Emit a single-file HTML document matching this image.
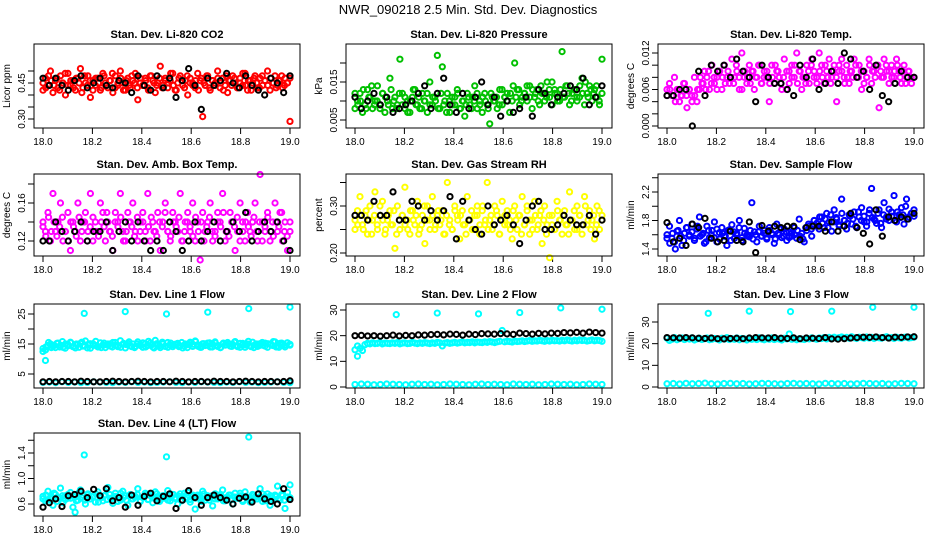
<!DOCTYPE html>
<html><head><meta charset="utf-8"><title>NWR_090218 2.5 Min. Std. Dev. Diagnostics</title>
<style>
html,body{margin:0;padding:0;background:#fff;}
svg{display:block;font-family:"Liberation Sans",Arial,sans-serif;}
</style></head>
<body>
<svg id="chart" width="936" height="540" viewBox="0 0 936 540" xmlns="http://www.w3.org/2000/svg">
<rect x="0" y="0" width="936" height="540" fill="#fff"/>
<text x="468" y="14" text-anchor="middle" font-size="13">NWR_090218  2.5 Min. Std. Dev. Diagnostics</text>
</svg>
<script>
// ---- data ----
const xTicks = [18.0,18.2,18.4,18.6,18.8,19.0];
const xTickLabels = ["18.0","18.2","18.4","18.6","18.8","19.0"];

const co2Color = [0.42,0.47,0.44,0.50,0.41,0.46,0.43,0.48,0.45,0.40,0.49,0.44,0.46,0.42,0.47,0.51,0.43,0.45,0.48,0.39,0.46,0.44,0.47,0.42,0.49,0.45,0.43,0.46,0.41,0.48,0.44,0.50,0.45,0.42,0.47,0.43,0.46,0.49,0.38,0.45,0.44,0.47,0.43,0.48,0.46,0.41,0.45,0.52,0.44,0.47,0.43,0.46,0.49,0.42,0.45,0.48,0.44,0.46,0.40,0.47,0.45,0.43,0.49,0.46,0.31,0.44,0.48,0.42,0.46,0.45,0.50,0.43,0.47,0.44,0.41,0.46,0.48,0.45,0.43,0.47,0.44,0.49,0.42,0.46,0.45,0.48,0.43,0.47,0.44,0.46,0.50,0.42,0.45,0.48,0.44,0.46,0.43,0.47,0.45,0.29];
const co2Color2 = [0.45,0.43,0.48,0.46,0.44,0.47,0.42,0.45,0.49,0.44,0.46,0.43,0.47,0.45,0.41,0.48,0.44,0.46,0.42,0.47,0.45,0.43,0.48,0.44,0.46,0.49,0.43,0.45,0.47,0.42,0.46,0.44,0.48,0.45,0.43,0.47,0.44,0.46,0.42,0.48,0.45,0.44,0.47,0.43,0.46,0.45,0.49,0.44,0.42,0.47,0.46,0.43,0.48,0.45,0.44,0.46,0.42,0.47,0.45,0.48,0.43,0.46,0.44,0.47,0.45,0.42,0.48,0.46,0.44,0.47,0.43,0.45,0.49,0.44,0.46,0.42,0.47,0.45,0.43,0.48,0.46,0.44,0.47,0.45,0.43,0.46,0.48,0.44,0.45,0.47];
const co2Black = [0.47,0.44,0.47,0.44,0.42,0.46,0.48,0.43,0.45,0.47,0.44,0.43,0.46,0.45,0.41,0.48,0.44,0.42,0.48,0.43,0.47,0.39,0.46,0.51,0.44,0.34,0.47,0.44,0.46,0.49,0.45,0.43,0.48,0.44,0.42,0.40,0.47,0.45,0.41,0.48];

const presColor = [0.008,0.010,0.012,0.007,0.009,0.013,0.011,0.008,0.010,0.014,0.009,0.012,0.007,0.010,0.016,0.008,0.011,0.009,0.021,0.012,0.008,0.010,0.007,0.011,0.013,0.009,0.008,0.012,0.010,0.007,0.015,0.009,0.011,0.022,0.008,0.019,0.010,0.012,0.007,0.009,0.011,0.013,0.008,0.010,0.006,0.012,0.009,0.011,0.014,0.008,0.010,0.007,0.012,0.009,0.004,0.011,0.010,0.008,0.013,0.009,0.011,0.012,0.007,0.010,0.020,0.013,0.009,0.011,0.012,0.010,0.014,0.008,0.011,0.013,0.009,0.012,0.010,0.015,0.011,0.009,0.013,0.012,0.010,0.023,0.011,0.014,0.009,0.012,0.013,0.010,0.011,0.016,0.009,0.012,0.014,0.010,0.013,0.011,0.009,0.021];
const presColor2 = [0.012,0.009,0.010,0.013,0.008,0.011,0.014,0.009,0.010,0.008,0.012,0.011,0.009,0.013,0.010,0.008,0.012,0.009,0.011,0.007,0.010,0.013,0.009,0.011,0.008,0.010,0.012,0.009,0.011,0.010,0.008,0.012,0.009,0.007,0.010,0.011,0.009,0.012,0.008,0.010,0.009,0.011,0.008,0.010,0.012,0.009,0.011,0.010,0.008,0.012,0.010,0.011,0.009,0.013,0.011,0.010,0.012,0.014,0.011,0.013,0.010,0.012,0.014,0.011,0.013,0.012,0.010,0.014,0.012,0.011,0.013,0.015,0.012,0.010,0.013,0.011,0.014,0.012,0.010,0.013,0.011,0.014,0.012,0.015,0.011,0.013,0.012,0.014,0.010,0.012];
const presBlack = [0.011,0.008,0.010,0.012,0.009,0.011,0.007,0.008,0.009,0.010,0.012,0.014,0.008,0.012,0.016,0.009,0.007,0.012,0.008,0.011,0.015,0.009,0.011,0.006,0.010,0.007,0.008,0.011,0.006,0.013,0.012,0.009,0.011,0.012,0.014,0.013,0.016,0.009,0.011,0.014];

const tempColor = [0.006,0.007,0.005,0.008,0.006,0.004,0.005,0.007,0.003,0.006,0.005,0.008,0.004,0.006,0.007,0.009,0.008,0.006,0.010,0.007,0.008,0.009,0.006,0.010,0.008,0.007,0.011,0.008,0.009,0.006,0.012,0.008,0.007,0.010,0.009,0.006,0.008,0.010,0.007,0.009,0.008,0.004,0.010,0.007,0.009,0.008,0.006,0.011,0.009,0.007,0.010,0.008,0.012,0.009,0.006,0.008,0.010,0.007,0.011,0.009,0.008,0.012,0.010,0.007,0.009,0.011,0.008,0.010,0.004,0.009,0.011,0.008,0.010,0.007,0.009,0.011,0.008,0.010,0.006,0.009,0.008,0.011,0.007,0.009,0.010,0.003,0.008,0.011,0.009,0.007,0.010,0.008,0.011,0.009,0.007,0.010,0.008,0.009,0.007,0.008];
const tempColor2 = [0.005,0.006,0.005,0.004,0.006,0.005,0.007,0.005,0.006,0.004,0.005,0.006,0.008,0.007,0.006,0.009,0.007,0.008,0.006,0.009,0.008,0.007,0.009,0.008,0.007,0.010,0.008,0.006,0.009,0.008,0.007,0.009,0.008,0.010,0.007,0.008,0.009,0.007,0.008,0.010,0.009,0.007,0.008,0.006,0.009,0.008,0.010,0.007,0.009,0.008,0.007,0.009,0.010,0.008,0.007,0.009,0.008,0.010,0.008,0.007,0.009,0.008,0.010,0.009,0.007,0.008,0.009,0.008,0.010,0.008,0.009,0.007,0.008,0.010,0.009,0.008,0.010,0.009,0.008,0.010,0.009,0.008,0.009,0.010,0.008,0.009,0.007,0.009,0.008,0.008];
const tempBlack = [0.005,0.005,0.006,0.006,0.000,0.009,0.005,0.010,0.009,0.010,0.008,0.011,0.009,0.008,0.004,0.010,0.008,0.007,0.007,0.006,0.005,0.010,0.008,0.011,0.006,0.007,0.009,0.007,0.012,0.011,0.008,0.009,0.006,0.010,0.005,0.004,0.007,0.009,0.008,0.008];

const ambColor = [0.14,0.13,0.15,0.12,0.17,0.13,0.14,0.16,0.12,0.13,0.15,0.11,0.14,0.13,0.16,0.12,0.14,0.15,0.13,0.17,0.12,0.14,0.13,0.16,0.15,0.12,0.14,0.13,0.11,0.15,0.14,0.17,0.13,0.12,0.15,0.14,0.16,0.13,0.12,0.14,0.15,0.13,0.17,0.12,0.14,0.13,0.15,0.11,0.14,0.16,0.13,0.12,0.15,0.14,0.13,0.17,0.12,0.14,0.15,0.13,0.16,0.12,0.14,0.10,0.15,0.13,0.14,0.16,0.12,0.13,0.15,0.14,0.17,0.12,0.13,0.15,0.14,0.11,0.13,0.16,0.14,0.12,0.15,0.13,0.14,0.16,0.12,0.19,0.14,0.13,0.15,0.12,0.14,0.16,0.13,0.15,0.12,0.14,0.11,0.13];
const ambColor2 = [0.135,0.125,0.145,0.13,0.14,0.125,0.135,0.145,0.13,0.12,0.14,0.135,0.125,0.145,0.13,0.14,0.12,0.135,0.145,0.13,0.125,0.14,0.135,0.15,0.13,0.125,0.14,0.135,0.145,0.12,0.13,0.14,0.135,0.125,0.145,0.13,0.14,0.12,0.135,0.145,0.13,0.125,0.14,0.135,0.15,0.13,0.125,0.14,0.135,0.145,0.12,0.13,0.14,0.135,0.125,0.145,0.13,0.14,0.12,0.135,0.145,0.13,0.125,0.14,0.135,0.15,0.13,0.125,0.14,0.135,0.145,0.12,0.13,0.14,0.135,0.125,0.145,0.13,0.14,0.12,0.135,0.145,0.13,0.125,0.14,0.135,0.15,0.13,0.125,0.14];
const ambBlack = [0.12,0.12,0.14,0.13,0.12,0.13,0.14,0.12,0.13,0.13,0.14,0.11,0.13,0.14,0.12,0.14,0.12,0.11,0.12,0.11,0.14,0.13,0.11,0.12,0.14,0.12,0.13,0.14,0.12,0.13,0.14,0.13,0.15,0.12,0.13,0.14,0.13,0.14,0.12,0.11];

const rhColor = [0.25,0.29,0.32,0.26,0.28,0.24,0.30,0.27,0.33,0.25,0.28,0.31,0.24,0.27,0.29,0.26,0.21,0.30,0.25,0.28,0.34,0.27,0.24,0.29,0.26,0.31,0.25,0.28,0.22,0.30,0.27,0.32,0.25,0.28,0.26,0.29,0.24,0.35,0.27,0.25,0.30,0.28,0.23,0.29,0.26,0.32,0.27,0.25,0.28,0.30,0.24,0.29,0.26,0.35,0.27,0.25,0.30,0.28,0.24,0.31,0.26,0.29,0.27,0.23,0.30,0.25,0.28,0.32,0.26,0.29,0.24,0.27,0.31,0.25,0.28,0.22,0.30,0.26,0.19,0.28,0.25,0.31,0.27,0.24,0.29,0.26,0.33,0.27,0.25,0.30,0.28,0.24,0.32,0.26,0.29,0.27,0.23,0.30,0.25,0.28];
const rhColor2 = [0.27,0.26,0.28,0.25,0.29,0.27,0.24,0.28,0.26,0.30,0.27,0.25,0.28,0.26,0.29,0.24,0.27,0.28,0.26,0.25,0.29,0.27,0.28,0.24,0.26,0.30,0.27,0.25,0.28,0.26,0.29,0.27,0.24,0.28,0.26,0.25,0.29,0.27,0.28,0.26,0.24,0.27,0.29,0.25,0.28,0.26,0.30,0.27,0.25,0.28,0.26,0.29,0.24,0.27,0.28,0.26,0.25,0.29,0.27,0.28,0.24,0.26,0.30,0.27,0.25,0.28,0.26,0.29,0.27,0.24,0.28,0.26,0.25,0.29,0.27,0.28,0.26,0.24,0.27,0.29,0.25,0.28,0.26,0.30,0.27,0.25,0.28,0.26,0.29,0.27];
const rhBlack = [0.28,0.28,0.27,0.31,0.28,0.28,0.33,0.27,0.27,0.31,0.30,0.27,0.29,0.27,0.29,0.32,0.23,0.31,0.27,0.25,0.24,0.30,0.26,0.27,0.28,0.26,0.22,0.27,0.30,0.31,0.25,0.25,0.26,0.28,0.27,0.26,0.26,0.28,0.24,0.27];

const flowColor = [1.60,1.72,1.55,1.50,1.65,1.80,1.45,1.62,1.70,1.58,1.75,1.52,1.68,1.85,1.60,1.48,1.72,1.56,1.66,1.78,1.50,1.63,1.70,1.58,1.45,1.67,1.74,1.55,1.62,1.80,1.52,1.69,1.60,1.57,2.05,1.64,1.50,1.72,1.58,1.66,1.54,1.70,1.62,1.48,1.75,1.60,1.56,1.68,1.52,1.64,1.58,1.70,1.55,1.82,1.62,1.50,1.66,1.72,1.58,1.80,1.76,1.68,1.85,1.70,1.90,1.78,1.65,1.95,1.82,1.72,2.10,1.80,1.68,1.88,1.75,1.92,1.70,1.85,1.98,1.78,1.72,1.90,2.25,1.82,1.76,1.95,1.70,2.05,1.85,1.80,1.92,2.15,1.78,1.88,1.98,1.75,2.10,1.85,1.90,1.95];
const flowColor2 = [1.55,1.48,1.62,1.40,1.66,1.58,1.52,1.70,1.60,1.64,1.55,1.72,1.58,1.62,1.50,1.66,1.60,1.56,1.68,1.54,1.62,1.58,1.66,1.52,1.64,1.60,1.70,1.56,1.62,1.58,1.66,1.54,1.60,1.64,1.58,1.62,1.56,1.66,1.60,1.54,1.62,1.68,1.58,1.64,1.56,1.62,1.60,1.66,1.58,1.54,1.70,1.75,1.68,1.80,1.72,1.85,1.76,1.82,1.70,1.88,1.78,1.84,1.74,1.90,1.80,1.76,1.86,1.82,1.72,1.92,1.80,1.86,1.78,1.95,1.84,1.80,1.90,1.76,1.88,1.82,1.96,1.86,1.80,1.92,1.84,1.88,2.00,1.82,1.90,1.86];
const flowBlack = [1.77,1.50,1.55,1.45,1.75,1.70,1.83,1.55,1.50,1.52,1.65,1.52,1.50,1.78,1.35,1.73,1.65,1.72,1.70,1.72,1.72,1.53,1.70,1.72,1.72,1.65,1.78,1.65,1.72,1.90,1.70,1.62,1.47,1.95,1.58,1.85,1.80,1.85,1.82,1.90];

const l1Upper = [12.5,13.0,14.5,15.0,14.2,13.8,15.3,14.6,13.9,15.0,14.4,15.6,14.1,13.7,14.9,15.2,14.3,16.0,14.8,13.6,15.1,14.5,14.0,15.4,14.7,13.8,15.0,14.3,15.5,14.6,14.1,16.1,14.9,13.7,15.2,14.4,15.0,14.2,15.7,14.8,13.9,15.1,14.5,15.3,14.0,16.2,14.7,13.8,15.0,14.3,15.5,14.6,14.1,14.9,15.2,14.4,13.7,15.0,14.8,15.6,14.2,16.0,14.7,13.9,15.1,14.5,15.3,14.0,14.9,15.4,14.2,13.8,15.0,14.6,15.5,14.3,14.9,15.8,14.1,15.2,14.7,13.9,15.0,14.4,15.6,14.8,14.2,15.1,14.6,15.3,13.9,15.0,14.5,15.7,14.3,15.2,14.8,14.0,15.4,14.6];
const l1Upper2 = [13.5,14.0,15.5,13.8,14.6,15.2,14.0,15.8,13.6,14.8,15.4,14.2,15.0,13.9,15.6,14.4,13.7,15.1,14.6,15.9,14.1,13.8,15.3,14.7,15.0,14.0,15.5,14.3,13.9,15.2,14.8,15.7,14.1,13.8,15.0,14.5,15.4,14.0,15.9,14.6,13.7,15.1,14.4,15.6,14.2,13.9,15.3,14.7,15.0,14.1,15.5,14.3,13.8,15.2,14.9,15.8,14.2,13.9,15.1,14.6,15.4,14.0,15.7,14.5,13.8,15.3,14.8,15.0,14.2,15.6,14.4,13.9,15.2,14.7,15.9,14.1,13.8,15.0,14.5,15.5,14.3,15.1,14.8,15.8,14.0,13.9,15.3,14.6,15.4,14.9];
const l1Lower = [2.2,2.3,2.1,2.4,2.2,2.3,2.1,2.2,2.4,2.3,2.2,2.1,2.3,2.2,2.4,2.2,2.3,2.1,2.2,2.3,2.4,2.2,2.1,2.3,2.2,2.4,2.3,2.2,2.1,2.3,2.2,2.4,2.2,2.3,2.1,2.2,2.3,2.4,2.2,2.1];
const l1Black = [2.4,2.5,2.4,2.5,2.5,2.4,2.6,2.5,2.4,2.4,2.5,2.6,2.5,2.4,2.5,2.6,2.5,2.4,2.5,2.5,2.4,2.6,2.5,2.4,2.5,2.5,2.4,2.6,2.5,2.5,2.4,2.5,2.6,2.5,2.4,2.5,2.5,2.4,2.5,2.7];
const l1OutX = [18.01,18.167,18.333,18.5,18.667,18.833,19.0];
const l1OutY = [9.5,25.2,25.8,25.0,25.6,26.8,27.3];

const l2Upper = [14.5,16.0,15.0,14.2,16.5,17.0,16.8,17.2,16.9,17.0,17.3,16.8,17.1,17.0,16.9,17.2,17.0,17.3,16.8,17.1,17.2,16.9,17.0,17.4,17.1,16.9,17.2,17.0,17.3,17.1,16.9,17.2,17.0,17.4,17.2,16.0,17.1,17.3,17.0,17.2,17.4,17.1,17.3,17.5,17.2,17.4,17.3,17.6,17.2,17.5,17.4,17.3,17.6,17.4,17.7,17.5,17.3,17.6,17.8,22.0,17.6,17.8,17.7,17.5,17.9,17.7,17.8,18.0,17.7,17.9,18.1,17.8,18.0,17.9,18.2,18.0,17.8,18.1,17.9,18.2,18.0,18.1,17.9,18.2,18.0,18.3,18.1,17.9,18.2,18.0,18.3,18.1,18.2,17.9,18.1,18.3,18.0,18.2,18.1,17.8];
const l2Lower = [1.0,1.2,1.1,0.9,1.0,1.2,1.1,1.0,0.9,1.1,1.2,1.0,1.1,0.9,1.0,1.2,1.1,1.0,0.9,1.1,1.2,1.0,1.1,1.0,0.9,1.2,1.1,1.0,1.1,0.9,1.0,1.2,1.1,1.0,1.1,0.9,1.0,1.2,1.1,1.0];
const l2Black = [20.0,20.1,19.9,20.0,19.8,20.0,20.2,19.9,20.1,20.0,20.3,20.2,20.4,20.5,20.3,20.6,20.5,20.2,20.6,20.4,20.8,20.7,20.6,20.8,20.7,20.5,21.0,20.8,20.6,20.9,20.7,21.0,20.9,21.2,21.1,21.3,21.0,21.4,21.2,21.0];
const l2OutX = [18.01,18.167,18.333,18.5,18.667,18.833,19.0];
const l2OutY = [12.0,28.2,28.8,28.5,29.0,30.8,30.3];

const l3Upper = [22.5,21.5,22.0,22.8,21.8,22.3,22.6,21.9,22.4,22.1,22.7,21.7,22.2,22.5,21.9,22.3,22.6,21.8,22.0,22.4,22.2,21.7,22.5,22.1,22.8,21.9,22.3,22.0,22.6,21.8,22.4,22.2,21.7,22.5,22.0,22.3,21.9,22.7,22.1,21.8,22.4,22.0,22.6,21.9,22.3,22.1,21.7,22.5,22.2,24.5,22.0,22.4,21.8,22.3,22.1,21.9,22.5,22.2,22.7,22.3,22.0,22.6,22.4,22.8,22.2,22.9,22.5,23.0,22.4,22.8,23.1,22.6,22.9,22.5,23.2,22.7,22.4,23.0,22.8,22.5,23.1,22.6,22.9,22.4,23.0,22.7,22.5,22.9,23.2,22.6,22.8,22.4,23.0,22.7,22.5,22.9,23.1,22.6,22.8,23.0];
const l3Lower = [1.5,1.6,1.4,1.7,1.5,1.6,1.8,1.5,1.4,1.6,1.7,1.5,1.6,1.4,1.5,1.7,1.6,1.5,1.4,1.6,1.7,1.5,1.6,1.5,1.4,1.7,1.6,1.5,1.6,1.4,1.5,1.7,1.6,1.5,1.6,1.4,1.5,1.7,1.6,1.5];
const l3Black = [22.8,22.7,22.6,22.8,22.7,22.5,22.4,22.6,22.3,22.2,22.4,22.5,22.3,22.6,22.8,22.7,22.6,22.8,22.5,22.4,22.7,22.3,22.6,22.5,22.4,22.8,22.2,22.1,22.3,22.6,22.8,23.0,22.9,23.1,22.8,22.6,23.0,22.9,23.1,23.2];
const l3OutX = [18.167,18.333,18.5,18.667,18.833,19.0];
const l3OutY = [34.0,35.0,34.8,35.0,36.8,36.8];

const l4Color = [0.72,0.65,0.80,0.68,0.58,0.75,0.70,0.85,0.62,0.73,0.69,0.78,0.55,0.71,0.66,0.82,0.74,0.60,0.76,0.68,0.72,0.63,0.79,0.70,0.65,0.74,0.86,0.69,0.61,0.77,0.71,0.66,0.80,0.73,0.58,0.75,0.68,0.72,0.84,0.64,0.70,0.77,0.67,0.74,0.62,0.79,0.71,0.66,0.73,0.69,0.81,0.65,0.75,0.70,0.60,0.76,0.72,0.68,0.78,0.63,0.71,0.52,0.74,0.69,0.80,0.66,0.73,0.70,0.57,0.76,0.68,0.72,0.82,0.65,0.71,0.74,0.60,0.77,0.69,0.73,0.66,0.79,0.70,0.63,0.75,0.71,0.68,0.84,0.64,0.72,0.76,0.58,0.70,0.74,0.88,0.66,0.73,0.53,0.78,0.90];
const l4Color2 = [0.68,0.74,0.66,0.71,0.77,0.64,0.70,0.73,0.67,0.75,0.69,0.72,0.65,0.78,0.70,0.66,0.74,0.68,0.71,0.76,0.63,0.70,0.73,0.67,0.75,0.69,0.72,0.64,0.77,0.70,0.66,0.73,0.68,0.71,0.75,0.65,0.70,0.74,0.67,0.72,0.69,0.76,0.64,0.71,0.73,0.66,0.70,0.75,0.68,0.72,0.65,0.77,0.70,0.67,0.74,0.69,0.71,0.64,0.76,0.70,0.66,0.73,0.68,0.72,0.75,0.65,0.70,0.74,0.67,0.71,0.69,0.77,0.64,0.72,0.70,0.66,0.74,0.68,0.71,0.76,0.65,0.70,0.73,0.67,0.72,0.69,0.75,0.66,0.71,0.70];
const l4Black = [0.55,0.62,0.68,0.56,0.73,0.75,0.80,0.70,0.83,0.73,0.84,0.65,0.70,0.55,0.74,0.58,0.72,0.77,0.65,0.72,0.76,0.53,0.66,0.81,0.70,0.58,0.70,0.74,0.70,0.66,0.60,0.69,0.71,0.63,0.76,0.68,0.64,0.60,0.84,0.67];
const l4OutX = [18.13,18.167,18.5,18.833];
const l4OutY = [0.47,1.37,1.34,1.65];

// ---- drawing ----
const NS = "http://www.w3.org/2000/svg";
const svg = document.getElementById('chart');
const rowTop = [44,174,304,433], rowBot = [128,256,388,516];
function mk(tag, attrs, parent){ const e=document.createElementNS(NS,tag); for(const k in attrs) e.setAttribute(k,attrs[k]); (parent||svg).appendChild(e); return e; }

function panel(p){
  const c=p.col, r=p.row;
  const left=34+312*c, right=300+312*c, top=rowTop[r], bot=rowBot[r];
  const g = mk('g',{});
  
  
  const xs = v => 43+312*c + (v-18)*247;
  const ys = v => p.py1 + (v-p.v1)*(p.py2-p.py1)/(p.v2-p.v1);
  const t = mk('text',{x:(left+right)/2,y:top-6,'text-anchor':'middle','font-size':11,'font-weight':'bold'},g);
  t.textContent = p.title;
  
  
  const xa = mk('g',{},g);
  
  
  mk('line',{x1:xs(xTicks[0]),x2:xs(xTicks[xTicks.length-1]),y1:bot,y2:bot,stroke:'#000'},xa);
  xTicks.forEach((v,i)=>{
    mk('line',{x1:xs(v),x2:xs(v),y1:bot,y2:bot+6,stroke:'#000'},xa);
    const l = mk('text',{x:xs(v),y:bot+17,'text-anchor':'middle','font-size':10},xa);
    l.textContent = xTickLabels[i];
  });
  const ya = mk('g',{},g);
  
  
  mk('line',{x1:left,x2:left,y1:ys(p.ticks[0]),y2:ys(p.ticks[p.ticks.length-1]),stroke:'#000'},ya);
  p.ticks.forEach(v=>{
    mk('line',{x1:left-6,x2:left,y1:ys(v),y2:ys(v),stroke:'#000'},ya);
  });
  p.labels.forEach(v=>{
    const yy=ys(v), xx=left-9;
    const l = mk('text',{x:xx,y:yy,'text-anchor':'middle','font-size':10,transform:`rotate(-90 ${xx} ${yy})`},ya);
    l.textContent = p.fmt(v);
  });
  const yl = mk('text',{x:left-24,y:(top+bot)/2,'text-anchor':'middle','font-size':10,transform:`rotate(-90 ${left-24} ${(top+bot)/2})`},g);
  yl.textContent = p.ylab;
  
  
  const pts = mk('g',{fill:'none','stroke-width':2},g);
  
  
  p.series.forEach(s=>{
    const n=s.y.length;
    s.y.forEach((v,i)=>{
      const xv = s.x ? s.x[i] : 18 + i/(n-1);
      const ci = mk('circle',{cx:xs(xv),cy:ys(v),r:2.6,stroke:s.color},pts);
      
      
    });
  });
  const b = mk('rect',{x:left,y:top,width:right-left,height:bot-top,fill:'none',stroke:'#000'},g);
  
  
}
const f2=v=>v.toFixed(2), f3=v=>v.toFixed(3), f1=v=>v.toFixed(1), f0=v=>String(v);
const RED='#ff0000',GRN='#00c000',MAG='#ff00ff',YEL='#ffff00',BLU='#0000ff',CYA='#00ffff',BLK='#000';

panel({name:'co2',col:0,row:0,title:'Stan. Dev. Li-820 CO2',ylab:'Licor ppm',v1:0.30,py1:119,v2:0.45,py2:83,ticks:[0.30,0.35,0.40,0.45,0.50],labels:[0.30,0.45],fmt:f2,
  series:[{y:co2Color,color:RED,label:'co2'},{y:co2Color2,color:RED,label:'co2'},{y:co2Black,color:BLK,label:'co2-black'}]});
panel({name:'pressure',col:1,row:0,title:'Stan. Dev. Li-820 Pressure',ylab:'kPa',v1:0.005,py1:120,v2:0.015,py2:82,ticks:[0.005,0.010,0.015,0.020],labels:[0.005,0.015],fmt:f3,
  series:[{y:presColor,color:GRN,label:'pressure'},{y:presColor2,color:GRN,label:'pressure'},{y:presBlack,color:BLK,label:'pressure-black'}]});
panel({name:'temp',col:2,row:0,title:'Stan. Dev. Li-820 Temp.',ylab:'degrees C',v1:0.000,py1:126,v2:0.012,py2:53,ticks:[0,0.002,0.004,0.006,0.008,0.010,0.012],labels:[0,0.006,0.012],fmt:f3,
  series:[{y:tempColor,color:MAG,label:'temp'},{y:tempColor2,color:MAG,label:'temp'},{y:tempBlack,color:BLK,label:'temp-black'}]});
panel({name:'amb-box-temp',col:0,row:1,title:'Stan. Dev. Amb. Box Temp.',ylab:'degrees C',v1:0.12,py1:241,v2:0.16,py2:203,ticks:[0.12,0.14,0.16,0.18],labels:[0.12,0.16],fmt:f2,
  series:[{y:ambColor,color:MAG,label:'amb'},{y:ambColor2,color:MAG,label:'amb'},{y:ambBlack,color:BLK,label:'amb-black'}]});
panel({name:'gas-rh',col:1,row:1,title:'Stan. Dev. Gas Stream RH',ylab:'percent',v1:0.20,py1:253,v2:0.30,py2:206,ticks:[0.20,0.25,0.30,0.35],labels:[0.20,0.30],fmt:f2,
  series:[{y:rhColor,color:YEL,label:'rh'},{y:rhColor2,color:YEL,label:'rh'},{y:rhBlack,color:BLK,label:'rh-black'}]});
panel({name:'sample-flow',col:2,row:1,title:'Stan. Dev. Sample Flow',ylab:'ml/min',v1:1.4,py1:249,v2:2.2,py2:192,ticks:[1.4,1.6,1.8,2.0,2.2,2.4],labels:[1.4,1.8,2.2],fmt:f1,
  series:[{y:flowColor,color:BLU,label:'flow'},{y:flowColor2,color:BLU,label:'flow'},{y:flowBlack,color:BLK,label:'flow-black'}]});
panel({name:'line1-flow',col:0,row:2,title:'Stan. Dev. Line 1 Flow',ylab:'ml/min',v1:5,py1:374,v2:25,py2:314,ticks:[5,10,15,20,25],labels:[5,15,25],fmt:f0,
  series:[{y:l1Upper,color:CYA,label:'line1-upper'},{y:l1Upper2,color:CYA,label:'line1-upper'},{y:l1Lower,color:CYA,label:'line1-lower'},{x:l1OutX,y:l1OutY,color:CYA,label:'line1-outlier'},{y:l1Black,color:BLK,label:'line1-black'}]});
panel({name:'line2-flow',col:1,row:2,title:'Stan. Dev. Line 2 Flow',ylab:'ml/min',v1:0,py1:387,v2:30,py2:310,ticks:[0,10,20,30],labels:[0,10,20,30],fmt:f0,
  series:[{y:l2Upper,color:CYA,label:'line2-upper'},{y:l2Lower,color:CYA,label:'line2-lower'},{x:l2OutX,y:l2OutY,color:CYA,label:'line2-outlier'},{y:l2Black,color:BLK,label:'line2-black'}]});
panel({name:'line3-flow',col:2,row:2,title:'Stan. Dev. Line 3 Flow',ylab:'ml/min',v1:0,py1:387,v2:30,py2:322,ticks:[0,10,20,30],labels:[0,10,20,30],fmt:f0,
  series:[{y:l3Upper,color:CYA,label:'line3-upper'},{y:l3Lower,color:CYA,label:'line3-lower'},{x:l3OutX,y:l3OutY,color:CYA,label:'line3-outlier'},{y:l3Black,color:BLK,label:'line3-black'}]});
panel({name:'line4-flow',col:0,row:3,title:'Stan. Dev. Line 4 (LT) Flow',ylab:'ml/min',v1:0.6,py1:504,v2:1.4,py2:453,ticks:[0.6,0.8,1.0,1.2,1.4,1.6],labels:[0.6,1.0,1.4],fmt:f1,
  series:[{y:l4Color,color:CYA,label:'line4'},{y:l4Color2,color:CYA,label:'line4'},{x:l4OutX,y:l4OutY,color:CYA,label:'line4-outlier'},{y:l4Black,color:BLK,label:'line4-black'}]});
</script>
</body></html>
